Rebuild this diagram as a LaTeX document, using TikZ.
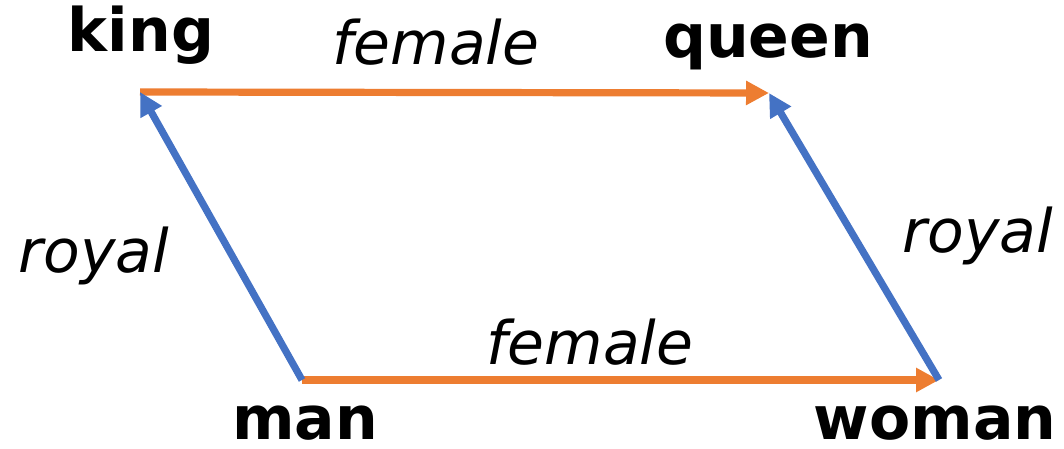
\documentclass[tikz,border=0pt]{standalone}
\usepackage{fontspec}
\setmainfont{DejaVu Sans}
\usepackage{xcolor}
\usetikzlibrary{arrows.meta}

\definecolor{vecorange}{HTML}{ED7D31}
\definecolor{vecblue}{HTML}{4472C4}

\begin{document}
\begin{tikzpicture}[x=0.5pt, y=0.5pt,
    word/.style={font=\fontsize{30}{36}\selectfont\bfseries, anchor=base, inner sep=0pt},
    rel/.style={font=\fontsize{30}{36}\selectfont\itshape, anchor=base, inner sep=0pt},
    fem/.style={draw=vecorange, line width=3.6pt, -{Triangle[length=11.5pt, width=11.5pt]}},
    roy/.style={draw=vecblue, line width=3.6pt, -{Triangle[length=11.5pt, width=11.5pt]}}]

    \useasboundingbox (0, 0) rectangle (1064, 449);

    \coordinate (k) at (140, 357);
    \coordinate (q) at (769, 356);
    \coordinate (m) at (302, 69);
    \coordinate (w) at (939, 69);

    \node[word] (king) at (141, 397) {king};
    \node[word] (queen) at (768, 391) {queen};
    \node[word] (man) at (305, 9) {man};
    \node[word] (woman) at (935, 9) {woman};

    \node[rel] (f1) at (436, 384) {female};
    \node[rel] (f2) at (590, 84) {female};
    \node[rel] (r1) at (94, 176) {royal};
    \node[rel] (r2) at (978, 196) {royal};

    \path
        (k) edge[fem] (q)
        (m) edge[fem] (w)
        (m) edge[roy] (k)
        (w) edge[roy] (q);
\end{tikzpicture}
\end{document}
